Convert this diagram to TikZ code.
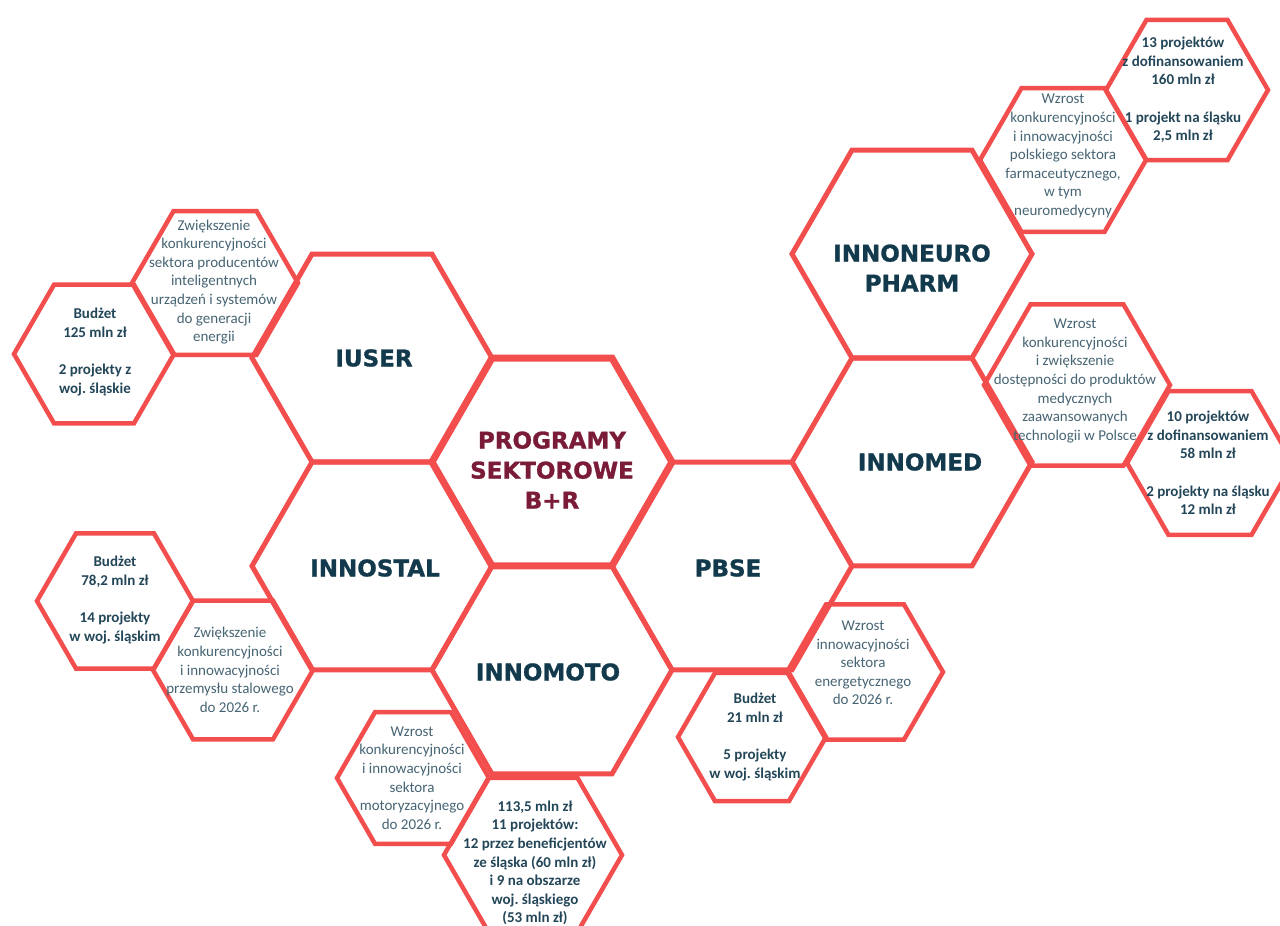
\documentclass[tikz,border=0pt]{standalone}
\usepackage{fontspec}
\setmainfont{Carlito}
\newfontfamily\labelfont{DejaVu Sans}[BoldFeatures={FakeBold=1.2}]
\usepackage{tikz}
\usetikzlibrary{shapes.geometric}

\definecolor{hexred}{RGB}{243,78,78}
\definecolor{labelteal}{RGB}{18,58,76}
\definecolor{centermaroon}{RGB}{122,28,56}
\definecolor{goalgray}{RGB}{70,100,115}
\definecolor{budgetteal}{RGB}{35,70,88}

\frenchspacing

\begin{document}
\begin{tikzpicture}[
    x=1pt, y=-1pt,
    big hex/.style={regular polygon, regular polygon sides=6, draw=hexred, line width=5pt, minimum size=240pt, inner sep=0pt},
    small hex/.style={regular polygon, regular polygon sides=6, draw=hexred, line width=4.5pt, minimum size=#1pt, inner sep=0pt},
    program label/.style={font=\labelfont\bfseries\fontsize{23}{30}\selectfont, text=labelteal, align=center},
    goal text/.style={font=\fontsize{15}{18.6}\selectfont, text=goalgray, align=center, inner sep=0pt},
    budget text/.style={font=\bfseries\fontsize{15}{18.6}\selectfont, text=budgetteal, align=center, inner sep=0pt}
]
\useasboundingbox (0,0) rectangle (1280,926);

% Central hexagon
\node[big hex, line width=7pt] (programy) at (552,462) {};
\node[program label, text=centermaroon] (programyText) at (552,470) {PROGRAMY\\SEKTOROWE\\B+R};

% Programme hexagons
\node[big hex] (iuser) at (372,358) {};
\node[program label] (iuserText) at (374,358) {IUSER};
\node[big hex] (innostal) at (372,566) {};
\node[program label] (innostalText) at (375,568) {INNOSTAL};
\node[big hex] (innomoto) at (552,670) {};
\node[program label] (innomotoText) at (548,672) {INNOMOTO};
\node[big hex] (pbse) at (732,566) {};
\node[program label] (pbseText) at (728,568) {PBSE};
\node[big hex] (innomed) at (912,462) {};
\node[program label] (innomedText) at (920,462) {INNOMED};
\node[big hex] (innoneuro) at (912,254) {};
\node[program label] (innoneuroText) at (912,268) {INNONEURO\\PHARM};

% IUSER
\node[small hex=166] (iuserGoal) at (215,283) {};
\node[goal text] (iuserGoalText) at (214,282) {Zwiększenie\\konkurencyjności\\sektora producentów\\inteligentnych\\urządzeń i systemów\\do generacji\\energii};
\node[small hex=160] (iuserBudget) at (94,354) {};
\node[budget text] (iuserBudgetText) at (95,352) {Budżet\\125 mln zł\\[18.6pt]2 projekty z\\woj. śląskie};

% INNONEURO PHARM
\node[small hex=166] (innoneuroGoal) at (1063,160) {};
\node[goal text] (innoneuroGoalText) at (1063,156) {Wzrost\\konkurencyjności\\i innowacyjności\\polskiego sektora\\farmaceutycznego,\\w tym\\neuromedycyny};
\node[small hex=162] (innoneuroBudget) at (1187,90) {};
\node[budget text] (innoneuroBudgetText) at (1183,90) {13 projektów\\z dofinansowaniem\\160 mln zł\\[18.6pt]1 projekt na śląsku\\2,5 mln zł};

% INNOMED
\node[small hex=186] (innomedGoal) at (1077,385) {};
\node[goal text] (innomedGoalText) at (1075,381) {Wzrost\\konkurencyjności\\i zwiększenie\\dostępności do produktów\\medycznych\\zaawansowanych\\technologii w Polsce};
\node[small hex=166] (innomedBudget) at (1210,463) {};
\node[budget text] (innomedBudgetText) at (1208,463) {10 projektów\\z dofinansowaniem\\58 mln zł\\[18.6pt]2 projekty na śląsku\\12 mln zł};

% INNOSTAL
\node[small hex=156] (innostalBudget) at (115,601) {};
\node[budget text] (innostalBudgetText) at (115,600) {Budżet\\78,2 mln zł\\[18.6pt]14 projekty\\w woj. śląskim};
\node[small hex=160] (innostalGoal) at (233,670) {};
\node[goal text] (innostalGoalText) at (230,670) {Zwiększenie\\konkurencyjności\\i innowacyjności\\przemysłu stalowego\\do 2026 r.};

% INNOMOTO
\node[small hex=152] (innomotoGoal) at (413,778) {};
\node[goal text] (innomotoGoalText) at (412,778) {Wzrost\\konkurencyjności\\i innowacyjności\\sektora\\motoryzacyjnego\\do 2026 r.};
\node[small hex=178] (innomotoBudget) at (533,855) {};
\node[budget text] (innomotoBudgetText) at (535,863) {113,5 mln zł\\11 projektów:\\12 przez beneficjentów\\ze śląska (60 mln zł)\\i 9 na obszarze\\woj. śląskiego\\(53 mln zł)};

% PBSE
\node[small hex=156] (pbseGoal) at (865,672) {};
\node[goal text] (pbseGoalText) at (863,663) {Wzrost\\innowacyjności\\sektora\\energetycznego\\do 2026 r.};
\node[small hex=148] (pbseBudget) at (752,737) {};
\node[budget text] (pbseBudgetText) at (755,737) {Budżet\\21 mln zł\\[18.6pt]5 projekty\\w woj. śląskim};
\end{tikzpicture}
\end{document}
